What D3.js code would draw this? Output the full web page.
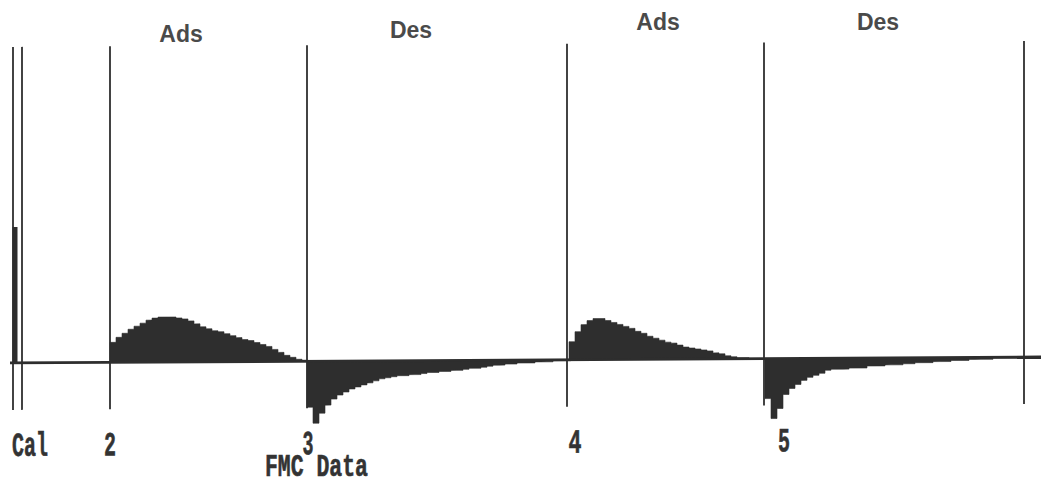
<!DOCTYPE html>
<html><head><meta charset="utf-8">
<script src="https://cdn.jsdelivr.net/npm/d3@7"></script>
<style>
html,body{margin:0;padding:0;background:#fff;}
svg{display:block;}
</style></head>
<body>
<svg id="chart" width="1041" height="484"></svg>
<script>
// ---- data (time in arbitrary minutes, signal in arbitrary units) ----
const markerTimes = [0, 0.9, 9.7, 29.4, 55.4, 75.1, 101.1];
const markerBottoms = [-47, -47, -47, -47, -47, -47, -47];
const tickTimes  = [0, 9.7, 29.5, 56.2, 77.1];
const tickLabels = ["Cal", "2", "3", "4", "5"];
const phaseTimes  = [16.8, 39.8, 64.5, 86.5];
const phaseLabels = ["Ads", "Des", "Ads", "Des"];
const xTitle = "FMC Data";
const sampleStep = 0.6;
const calPeak = { t0: -0.05, t1: 0.45, value: 136 };

const seg2Start = 9.7;
const seg2Values = [20,25,29,33,36,39,42,44,45,45,45,44,43,41,38,35,33,31,30,28,26,24,22,21,19,17,15,12,9,6,4,2,1];
const seg3Start = 29.4;
const seg3Values = [-46,-62,-52,-44,-38,-34,-31,-28,-26,-24,-22,-20,-18,-17,-16,-15,-15,-14,-14,-13,-12,-12,-11,-11,-10,-10,-9,-8,-8,-7,-6,-5,-5,-4,-4,-3,-3,-3,-2,-2,-2,-1,-1,-1];
const seg4Start = 55.6;
const seg4Values = [18,28,35,39,41,41,39,37,35,33,31,28,26,23,21,19,17,16,14,12,11,10,9,8,6,5,3,2,1,1,0,0,0];
const seg5Start = 75.2;
const seg5Values = [-40,-60,-50,-36,-30,-26,-22,-19,-17,-15,-12,-11,-11,-11,-10,-10,-10,-8,-8,-8,-7,-7,-7,-6,-6,-5,-5,-5,-4,-4,-4,-3,-3,-3,-2,-2,-2,-2,-1,-1,-1,-1,-1,-1,0,0];

// ---- scales ----
const x = d3.scaleLinear().domain([0, 102.8]).range([13, 1041]);
const y = d3.scaleLinear().domain([-100, 150]).range([463, 213]);

const svg = d3.select("#chart");
const g = svg.append("g").attr("transform", "skewY(-0.33)");

const ink = "#2e2e2e";

function segPoints(start, vals) {
  const pts = vals.map((v, i) => ({ t: start + i * sampleStep, v }));
  pts.push({ t: start + vals.length * sampleStep, v: 0 });
  return pts;
}
const segments = [
  segPoints(seg2Start, seg2Values),
  segPoints(seg3Start, seg3Values),
  segPoints(seg4Start, seg4Values),
  segPoints(seg5Start, seg5Values)
];

const area = d3.area()
  .curve(d3.curveStepAfter)
  .x(d => x(d.t))
  .y0(y(0))
  .y1(d => y(d.v));

g.selectAll("path.seg").data(segments).enter().append("path")
  .attr("class", "seg")
  .attr("d", area)
  .attr("fill", ink)
  .attr("stroke", ink)
  .attr("stroke-width", 0.6);

// calibration spike
g.append("rect")
  .attr("x", x(calPeak.t0))
  .attr("width", x(calPeak.t1) - x(calPeak.t0))
  .attr("y", y(calPeak.value))
  .attr("height", y(0) - y(calPeak.value))
  .attr("fill", ink);

// baseline
g.append("line")
  .attr("x1", x(-0.3)).attr("x2", x(102.8))
  .attr("y1", y(0)).attr("y2", y(0))
  .attr("stroke", ink).attr("stroke-width", 2.8);

// marker lines
g.selectAll("line.marker").data(markerTimes).enter().append("line")
  .attr("class", "marker")
  .attr("x1", d => x(d)).attr("x2", d => x(d))
  .attr("y1", y(316)).attr("y2", (d, i) => y(markerBottoms[i]))
  .attr("stroke", ink).attr("stroke-width", 1.8);

// tick labels
const tickWidths = { "Cal": 36, "2": 12, "3": 11, "4": 13, "5": 12 };
g.selectAll("text.tick").data(tickLabels).enter().append("text")
  .attr("class", "tick")
  .attr("x", (d, i) => i === 0 ? x(tickTimes[i]) - 1 : x(tickTimes[i]) - tickWidths[d] / 2)
  .attr("y", y(-93))
  .attr("font-family", "'Liberation Mono', monospace")
  .attr("font-weight", "bold")
  .attr("font-size", 34)
  .attr("textLength", d => tickWidths[d])
  .attr("lengthAdjust", "spacingAndGlyphs")
  .attr("fill", "#333")
  .attr("stroke", "#333").attr("stroke-width", 0.6)
  .text(d => d);

svg.append("text")
  .attr("x", 265).attr("y", 476)
  .attr("font-family", "'Liberation Mono', monospace")
  .attr("font-weight", "bold")
  .attr("font-size", 31)
  .attr("textLength", 103)
  .attr("lengthAdjust", "spacingAndGlyphs")
  .attr("fill", "#333")
  .attr("stroke", "#333").attr("stroke-width", 0.6)
  .text(xTitle);

// phase labels
const phaseY = [42, 38, 30, 30];
svg.selectAll("text.phase").data(phaseLabels).enter().append("text")
  .attr("class", "phase")
  .attr("x", (d, i) => x(phaseTimes[i]))
  .attr("y", (d, i) => phaseY[i])
  .attr("text-anchor", "middle")
  .attr("font-family", "'Liberation Sans', Arial, sans-serif")
  .attr("font-weight", "bold")
  .attr("font-size", 23)
  .attr("fill", "#4a4a4a")
  .text(d => d);
</script>
</body></html>
